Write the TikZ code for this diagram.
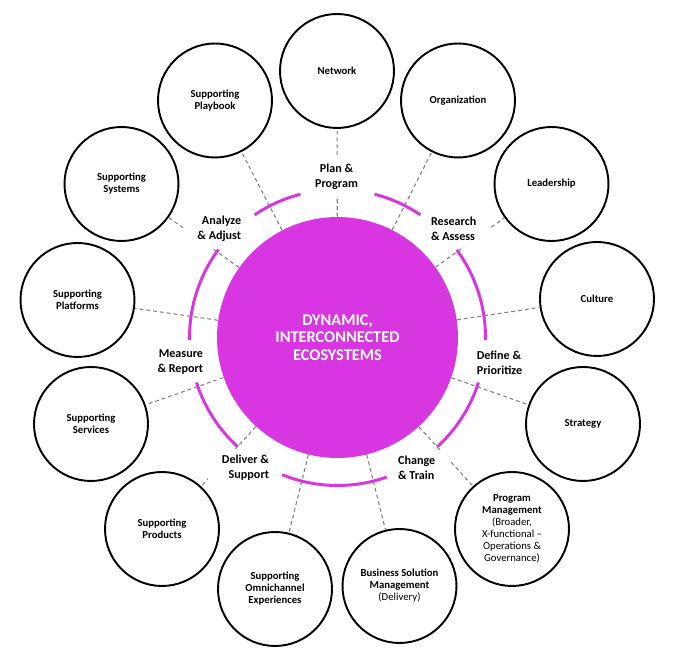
\documentclass[tikz,border=0pt]{standalone}
\usepackage{fontspec}
\setmainfont{Carlito}
\definecolor{ecomag}{RGB}{216,54,224}
\tikzset{
  outer/.style={draw,circle,line width=1.1pt,minimum size=2.28cm,inner sep=0pt,align=center,
    font=\fontsize{6.1}{6.8}\selectfont\bfseries},
  hub/.style={fill=ecomag,circle,minimum size=4.82cm,inner sep=0pt,align=center,text=white,
    font=\fontsize{9.3}{10}\selectfont\bfseries},
  link/.style={gray,line width=0.6pt,dash pattern=on 2.2pt off 1.7pt},
  stage/.style={fill=white,inner xsep=8pt,inner ysep=3.5pt,font=\fontsize{6.9}{8.5}\selectfont\bfseries},
  stagearc/.style={ecomag,line width=1.7pt}
}
\begin{document}
\begin{tikzpicture}[x=0.02cm,y=0.02cm]
    \useasboundingbox (0,0) rectangle (681,663);
    \node (hub) at (337.5,325.5) [hub] {DYNAMIC,\\INTERCONNECTED\\ECOSYSTEMS};
    \node (net) at (337,592) [outer] {Network};
    \node (org) at (458,562.5) [outer] {Organization};
    \node (lead) at (551.5,479) [outer] {Leadership};
    \node (cult) at (597,364) [outer] {Culture};
    \node (strat) at (583,239) [outer] {Strategy};
    \node (pm) at (512,134) [outer] {Program\\Management\\{\mdseries (Broader,}\\{\mdseries X-functional --}\\{\mdseries Operations \&}\\{\mdseries Governance)}};
    \node (bsm) at (399.5,77) [outer] {Business Solution\\Management\\{\mdseries (Delivery)}};
    \node (omni) at (275,74) [outer] {Supporting\\Omnichannel\\Experiences};
    \node (prod) at (162,134) [outer] {Supporting\\Products};
    \node (serv) at (91,239) [outer] {Supporting\\Services};
    \node (plat) at (77.5,363) [outer] {Supporting\\Platforms};
    \node (sys) at (121.5,479) [outer] {Supporting\\Systems};
    \node (play) at (215,562.5) [outer] {Supporting\\Playbook};
    \foreach \n in {net,org,lead,cult,strat,pm,bsm,omni,prod,serv,plat,sys,play}
      \draw[link] (hub) -- (\n);
    \node (plan) at (336.5,486) [stage,align=center] {Plan \&\\Program};
    \node (research) at (453.7,434) [stage,align=left] {Research\\\& Assess};
    \node (define) at (499.5,300.5) [stage,align=left] {Define \&\\Prioritize};
    \node (change) at (416.7,195.5) [stage,align=left] {Change\\\& Train};
    \node (deliver) at (245.5,195.5) [stage,align=right] {Deliver \&\\Support};
    \node (measure) at (180.3,301) [stage,align=right] {Measure\\\& Report};
    \node (analyze) at (219.3,434) [stage,align=right] {Analyze\\\& Adjust};
    \foreach \a/\b in {104.5/124,56/75.5,-1/36.3,-47.5/-17.7,-112/-70.6,-162.3/-132.5,143.5/181}
      \draw[stagearc] (hub.center) ++(\a:148) arc[start angle=\a,end angle=\b,radius=148];
\end{tikzpicture}
\end{document}
